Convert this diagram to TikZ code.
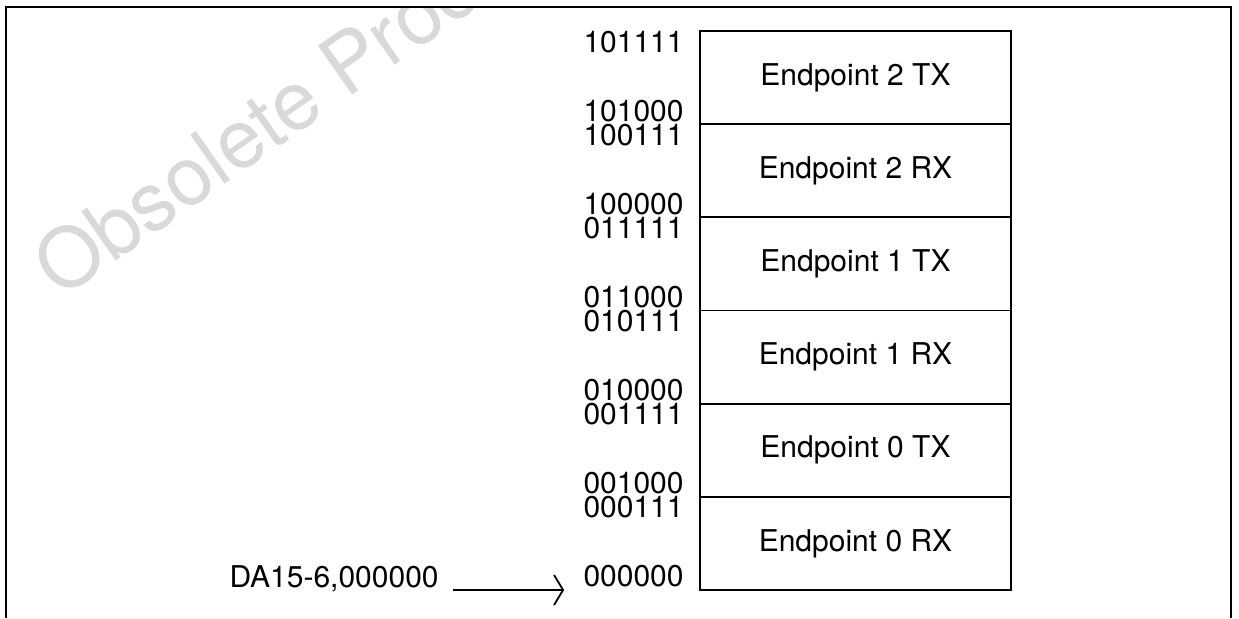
\documentclass[tikz,border=0pt]{standalone}
\usepackage{fontspec}
\setmainfont{TeX Gyre Heros}
\usepackage{tikz}
\usetikzlibrary{arrows.meta, positioning}

\tikzset{
  epbox/.style={draw, line width=0.9pt, minimum width=155.5pt, minimum height=46.58pt,
    inner sep=0pt, outer sep=0pt, font=\fontsize{15}{17}\selectfont},
  addr/.style={anchor=base east, inner sep=0pt, font=\fontsize{15}{17}\selectfont},
  obsmark/.style={anchor=base west, inner sep=0pt, rotate=35, text=black!15,
    font=\fontsize{41}{41}\selectfont}
}

\begin{document}
\begin{tikzpicture}[x=0.5pt, y=-0.5pt, node distance=0pt]
\useasboundingbox (0,0) rectangle (1239,618);

% watermark
\begin{scope}
\clip (6,7) rectangle (1231,618);
\node[obsmark] (obs) at (60,300) {Obsolete Product(s)};
\end{scope}

% frame
\draw[line width=1.1pt] (6,618) |- (1231,7) -- (1231,618);

% endpoint buffers
\node[epbox] (tx2) at (855.5,77.6) {Endpoint 2 TX};
\node[epbox, below=of tx2] (rx2) {Endpoint 2 RX};
\node[epbox, below=of rx2] (tx1) {Endpoint 1 TX};
\node[epbox, below=of tx1] (rx1) {Endpoint 1 RX};
\node[epbox, below=of rx1] (tx0) {Endpoint 0 TX};
\node[epbox, below=of tx0] (rx0) {Endpoint 0 RX};

% address limits
\foreach \b/\hi/\lo in {tx2/101111/101000, rx2/100111/100000, tx1/011111/011000,
                        rx1/010111/010000, tx0/001111/001000, rx0/000111/000000} {
  \node[addr] (\b-hi) at ([shift={(-8pt,-10.5pt)}]\b.north west) {\hi};
  \node[addr] (\b-lo) at ([shift={(-8pt,1.5pt)}]\b.south west) {\lo};
}

% start address
\node[addr] (da) at (439,587) {DA15-6,000000};
\draw[line width=0.9pt, -{Straight Barb[length=4.5pt, width=15pt]}]
  ([shift={(7pt,-1.5pt)}]da.base east) -- ([shift={(-9.5pt,-1.5pt)}]rx0-lo.base west);
\end{tikzpicture}
\end{document}
